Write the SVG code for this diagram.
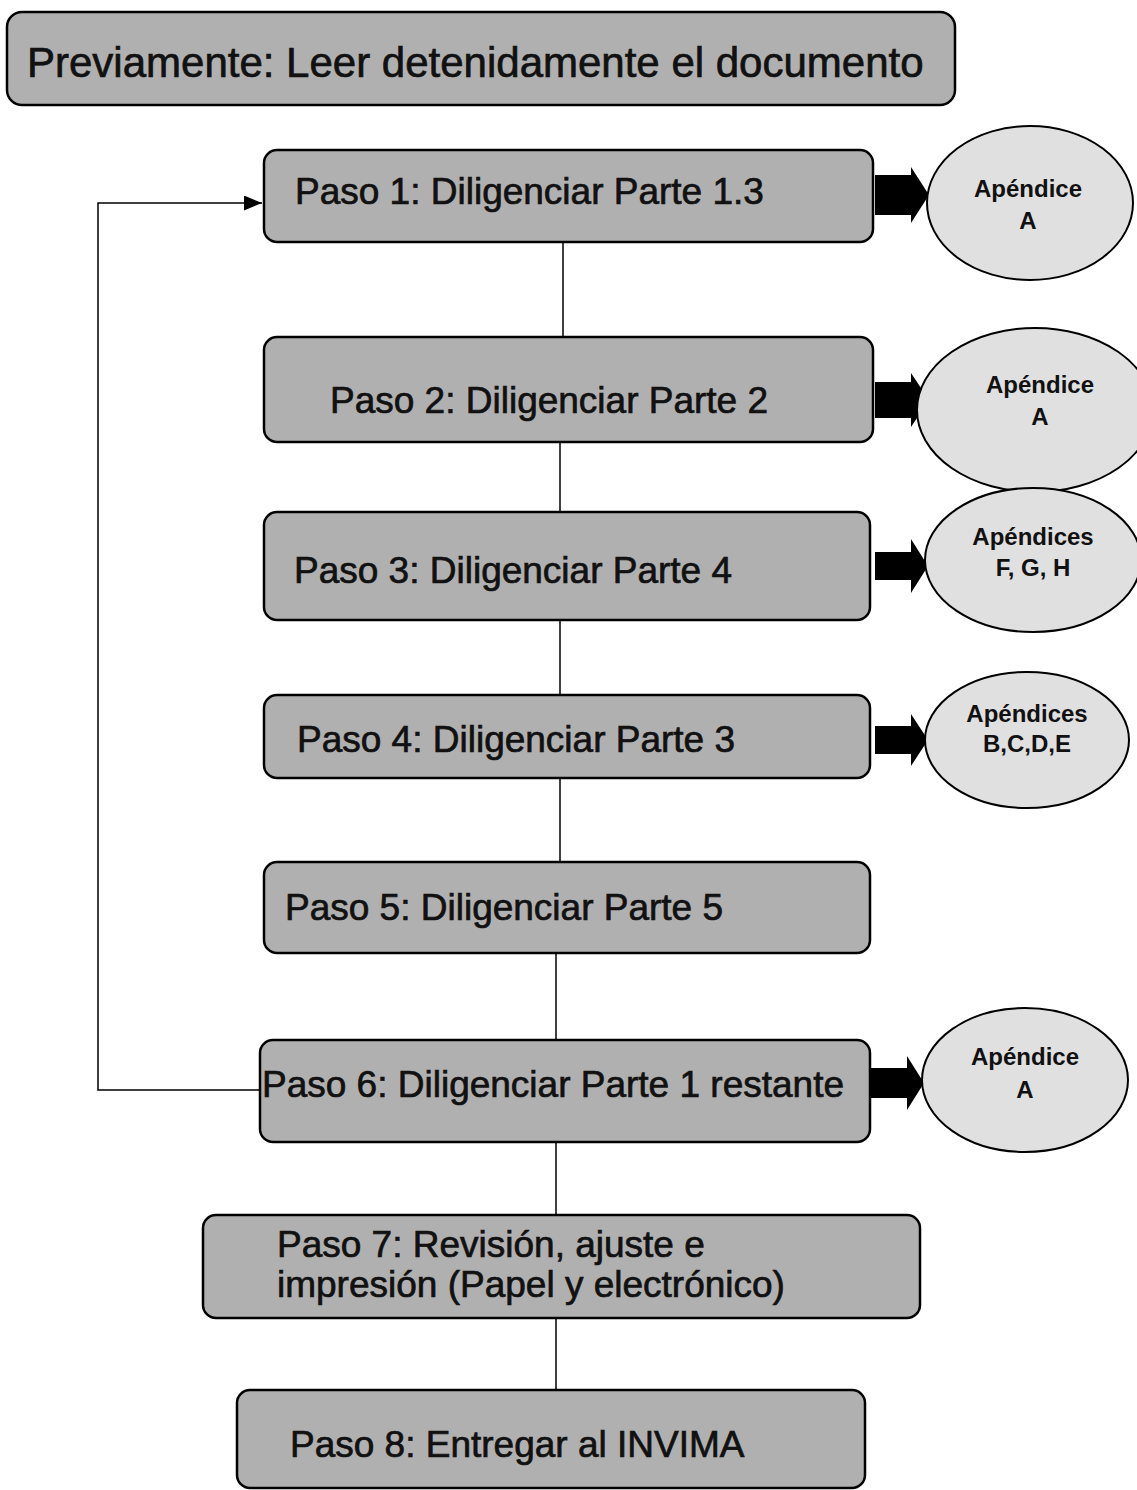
<svg xmlns="http://www.w3.org/2000/svg" width="1137" height="1490" viewBox="0 0 1137 1490">
<defs>
<style>
.box{fill:#b0b0b0;stroke:#000;stroke-width:2.5}
.ell{fill:#e0e0e0;stroke:#000;stroke-width:2}
.t{font-family:"Liberation Sans",Arial,sans-serif;font-size:37px;fill:#111;stroke:#111;stroke-width:0.7}
.big{font-size:42px}
.et{font-family:"Liberation Sans",Arial,sans-serif;font-size:24px;font-weight:bold;fill:#111;text-anchor:middle}
.ln{stroke:#000;stroke-width:1.5;fill:none}
.ba{fill:#000}
</style>
<marker id="ah2" viewBox="0 0 12 10" refX="12" refY="5" markerWidth="18" markerHeight="15" markerUnits="userSpaceOnUse" orient="auto"><path d="M0,0 L12,5 L0,10 z" fill="#000"/></marker>
</defs>
<g id="connectors">
<line class="ln" x1="563" y1="242" x2="563" y2="337"/>
<line class="ln" x1="560" y1="442" x2="560" y2="512"/>
<line class="ln" x1="560" y1="620" x2="560" y2="695"/>
<line class="ln" x1="560" y1="778" x2="560" y2="862"/>
<line class="ln" x1="556" y1="953" x2="556" y2="1040"/>
<line class="ln" x1="556" y1="1142" x2="556" y2="1215"/>
<line class="ln" x1="556" y1="1318" x2="556" y2="1390"/>
<polyline class="ln" points="260,1090 98,1090 98,203 262,203" marker-end="url(#ah2)"/>
<path class="ba" d="M875,175 H911 V167 L929,195 L911,223 V215 H875 Z"/>
<path class="ba" d="M875,382 H911 V373 L929,400 L911,427 V418 H875 Z"/>
<path class="ba" d="M875,552 H911 V539 L928,566 L911,593 V580 H875 Z"/>
<path class="ba" d="M875,726 H911 V714 L928,740 L911,766 V754 H875 Z"/>
<path class="ba" d="M870,1068 H907 V1056 L924,1083 L907,1110 V1098 H870 Z"/>
</g>
<g id="pre"><rect class="box" x="7" y="12" width="948" height="93" rx="15"/><text class="t big" x="27" y="77">Previamente: Leer detenidamente el documento</text></g>
<g id="paso1"><rect class="box" x="264" y="150" width="609" height="92" rx="13"/><text class="t" x="295" y="204">Paso 1: Diligenciar Parte 1.3</text></g>
<g id="paso2"><rect class="box" x="264" y="337" width="609" height="105" rx="13"/><text class="t" x="330" y="413">Paso 2: Diligenciar Parte 2</text></g>
<g id="paso3"><rect class="box" x="264" y="512" width="606" height="108" rx="13"/><text class="t" x="294" y="583">Paso 3: Diligenciar Parte 4</text></g>
<g id="paso4"><rect class="box" x="264" y="695" width="606" height="83" rx="13"/><text class="t" x="297" y="752">Paso 4: Diligenciar Parte 3</text></g>
<g id="paso5"><rect class="box" x="264" y="862" width="606" height="91" rx="13"/><text class="t" x="285" y="920">Paso 5: Diligenciar Parte 5</text></g>
<g id="paso6"><rect class="box" x="260" y="1040" width="610" height="102" rx="13"/><text class="t" x="262" y="1097">Paso 6: Diligenciar Parte 1 restante</text></g>
<g id="paso7"><rect class="box" x="203" y="1215" width="717" height="103" rx="13"/><text class="t" x="277" y="1257">Paso 7: Revisión, ajuste e</text><text class="t" x="277" y="1297">impresión (Papel y electrónico)</text></g>
<g id="paso8"><rect class="box" x="237" y="1390" width="628" height="98" rx="13"/><text class="t" x="290" y="1457">Paso 8: Entregar al INVIMA</text></g>
<g id="ap1"><ellipse class="ell" cx="1030" cy="203" rx="103" ry="77"/><text class="et" x="1028" y="197">Apéndice</text><text class="et" x="1028" y="229">A</text></g>
<g id="ap2"><ellipse class="ell" cx="1035" cy="410" rx="118" ry="82"/><text class="et" x="1040" y="393">Apéndice</text><text class="et" x="1040" y="425">A</text></g>
<g id="ap3"><ellipse class="ell" cx="1033" cy="560" rx="108" ry="72"/><text class="et" x="1033" y="545">Apéndices</text><text class="et" x="1033" y="576">F, G, H</text></g>
<g id="ap4"><ellipse class="ell" cx="1027" cy="740" rx="102" ry="68"/><text class="et" x="1027" y="722">Apéndices</text><text class="et" x="1027" y="752">B,C,D,E</text></g>
<g id="ap6"><ellipse class="ell" cx="1025" cy="1080" rx="103" ry="72"/><text class="et" x="1025" y="1065">Apéndice</text><text class="et" x="1025" y="1098">A</text></g>
</svg>
